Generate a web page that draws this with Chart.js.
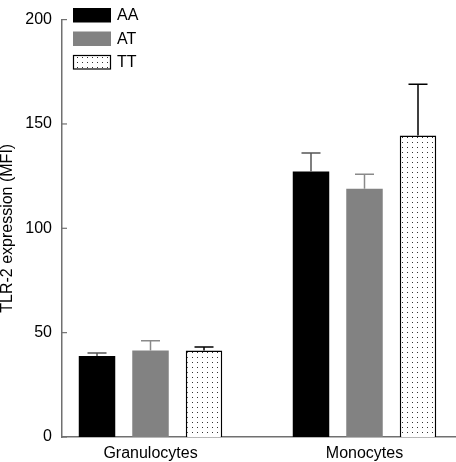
<!DOCTYPE html>
<html>
<head>
<meta charset="UTF-8">
<title>TLR-2 expression</title>
<script src="https://cdn.jsdelivr.net/npm/chart.js@4.4.1/dist/chart.umd.min.js"></script>
<style>
  html, body { margin: 0; padding: 0; background: #fff; }
</style>
</head>
<body>
<canvas id="chart" width="456" height="462"></canvas>
<script>
var categories = ['Granulocytes', 'Monocytes'];
var genotypes = ['AA', 'AT', 'TT'];
var meanAA = [38.8, 127.2];
var meanAT = [41.4, 119.0];
var meanTT = [41.4, 144.5];
var errAA = [1.4, 8.9];
var errAT = [4.7, 6.9];
var errTT = [1.7, 24.5];
var yTicks = [0, 50, 100, 150, 200];

var axisGrey = '#707070';
var ctx = document.getElementById('chart').getContext('2d');

// small dotted fill for the TT bars
function dotPattern() {
  var c = document.createElement('canvas');
  c.width = 5; c.height = 5;
  var g = c.getContext('2d');
  g.fillStyle = '#fff';
  g.fillRect(0, 0, 5, 5);
  g.fillStyle = '#333';
  g.fillRect(2, 2, 1, 1);
  return ctx.createPattern(c, 'repeat');
}

function points(values) {
  return values.map(function (v, i) { return { x: i, y: v }; });
}

var errorBars = {
  id: 'errorBars',
  afterDatasetsDraw: function (chart) {
    var c = chart.ctx, y = chart.scales.y;
    chart.data.datasets.forEach(function (ds, i) {
      var meta = chart.getDatasetMeta(i);
      meta.data.forEach(function (bar, j) {
        var top = y.getPixelForValue(ds.data[j].y + ds.errors[j]);
        c.save();
        c.strokeStyle = ds.errorColor;
        c.lineWidth = 1.5;
        c.beginPath();
        c.moveTo(bar.x, bar.y);
        c.lineTo(bar.x, top);
        c.moveTo(bar.x - 9.5, top);
        c.lineTo(bar.x + 9.5, top);
        c.stroke();
        c.restore();
      });
    });
  }
};

// tick marks pointing into the plot
var innerTicks = {
  id: 'innerTicks',
  afterDraw: function (chart) {
    var c = chart.ctx, y = chart.scales.y, left = chart.chartArea.left;
    c.save();
    c.strokeStyle = axisGrey;
    c.lineWidth = 1.2;
    y.ticks.forEach(function (t) {
      var py = y.getPixelForValue(t.value);
      c.beginPath();
      c.moveTo(left, py);
      c.lineTo(left + 5, py);
      c.stroke();
    });
    c.restore();
  }
};

var boxLegend = {
  id: 'boxLegend',
  afterDraw: function (chart) {
    var c = chart.ctx;
    c.save();
    c.font = '16px "Liberation Sans", Arial, sans-serif';
    c.textBaseline = 'middle';
    chart.data.datasets.forEach(function (ds, i) {
      var top = 8 + i * 23.5;
      c.fillStyle = ds.backgroundColor;
      c.fillRect(73, top, 38, 14.5);
      if (ds.borderWidth) {
        c.strokeStyle = ds.borderColor;
        c.lineWidth = 1.2;
        c.strokeRect(73.5, top + 0.5, 37, 13.5);
      }
      c.fillStyle = '#000';
      c.fillText(ds.label, 117, top + 8);
    });
    c.restore();
  }
};

new Chart(ctx, {
  type: 'bar',
  data: {
    datasets: [
      { label: genotypes[0], data: points(meanAA), errors: errAA, backgroundColor: '#000', borderWidth: 0, errorColor: '#555' },
      { label: genotypes[1], data: points(meanAT), errors: errAT, backgroundColor: '#828282', borderWidth: 0, errorColor: '#8a8a8a' },
      { label: genotypes[2], data: points(meanTT), errors: errTT, backgroundColor: dotPattern(), borderColor: '#000', borderWidth: 1.5, errorColor: '#000' }
    ]
  },
  options: {
    responsive: false,
    animation: false,
    categoryPercentage: 0.75,
    barPercentage: 0.682,
    layout: { padding: { top: 9, right: 1, left: 0, bottom: 0 } },
    plugins: { legend: { display: false }, tooltip: { enabled: false } },
    scales: {
      x: {
        type: 'linear',
        min: -0.4136,
        max: 1.4229,
        offset: false,
        afterBuildTicks: function (s) {
          s.ticks = categories.map(function (c, i) { return { value: i }; });
        },
        afterFit: function (s) { s.height = 25; },
        grid: { display: false, drawTicks: false },
        border: { display: true, color: axisGrey, width: 1.5 },
        ticks: {
          padding: 7,
          color: '#000',
          font: { family: '"Liberation Sans", Arial, sans-serif', size: 16 },
          callback: function (v) { return categories[v]; }
        }
      },
      y: {
        min: 0,
        max: 200,
        afterBuildTicks: function (s) {
          s.ticks = yTicks.map(function (v) { return { value: v }; });
        },
        afterFit: function (s) { s.width = 62; },
        grid: { display: false, drawTicks: false },
        border: { display: true, color: axisGrey, width: 1.5 },
        ticks: {
          padding: 10,
          color: '#000',
          font: { family: '"Liberation Sans", Arial, sans-serif', size: 16 }
        },
        title: {
          display: true,
          text: 'TLR-2 expression (MFI)',
          color: '#000',
          padding: { top: 0, bottom: 0 },
          font: { family: '"Liberation Sans", Arial, sans-serif', size: 16, lineHeight: 1 }
        }
      }
    }
  },
  plugins: [errorBars, innerTicks, boxLegend]
});
</script>
</body>
</html>
